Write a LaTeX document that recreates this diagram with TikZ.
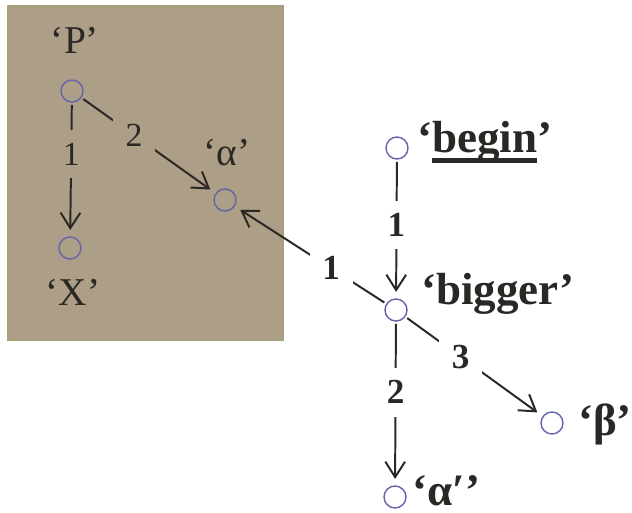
\documentclass[tikz,border=0pt]{standalone}
\usepackage{fontspec}
\setmainfont{Liberation Serif}
\usetikzlibrary{arrows.meta,positioning}
\definecolor{boxtan}{RGB}{173,158,135}
\definecolor{boxedge}{RGB}{165,160,122}
\definecolor{dotblue}{RGB}{100,100,172}
\definecolor{inkgray}{RGB}{42,40,36}
\newcommand{\thickul}[1]{\setbox0=\hbox{#1}\rlap{\rule[-7.5pt]{\wd0}{3.5pt}}\box0}

\begin{document}
\begin{tikzpicture}[
  x=0.025cm, y=-0.025cm,
  state/.style={draw=dotblue, circle, line width=1pt, minimum size=0.55cm, inner sep=0pt, outer sep=2pt},
  word/.style={text=inkgray, font=\fontsize{28}{32}\selectfont, inner sep=0pt},
  bword/.style={text=inkgray, font=\fontsize{32}{36}\selectfont\bfseries, inner sep=0pt},
  arr/.style={draw=inkgray, line width=1.4pt, shorten >=3pt, -{Straight Barb[length=11pt,width=14pt]}},
  num/.style={text=inkgray, font=\fontsize{24}{28}\selectfont, inner sep=9pt},
  bnum/.style={num, font=\fontsize{25}{28}\selectfont\bfseries, fill=white},
  tnum/.style={num, fill=boxtan},
  groupbox/.style={fill=boxtan, draw=boxedge, line width=0.8pt}
]
\useasboundingbox (0,0) rectangle (632,513);

% grey group on the left
\path[groupbox] (8,6) rectangle (283,340);

\node[state] (p) at (72,91) {};
\node[state] (x) at (70,248) {};
\node[state] (alpha) at (225,200) {};
\node[state] (begin) at (397,148) {};
\node[state] (bigger) at (396,310) {};
\node[state] (beta) at (552,423) {};
\node[state] (alpha2) at (395,497) {};

\node[word, anchor=base] (ptxt) at (75,53) {‘P’};
\node[word, anchor=base] (xtxt) at (73,305) {‘X’};
\node[word, anchor=base] (alphatxt) at (227,165) {‘α’};
\node[bword, anchor=base west] (begintxt) at (417,152) {‘\thickul{begin}’};
\node[bword, anchor=base west] (biggertxt) at (421,304) {‘bigger’};
\node[bword, anchor=base west] (betatxt) at (578,435) {‘β’};
\node[bword, anchor=base west] (alpha2txt) at (412,505) {‘α′’};

\draw[arr] (p) -- node[tnum, pos=0.38] (e1) {1} (x);
\draw[arr] (p) -- node[tnum, pos=0.39] (e2) {2} (alpha);
\draw[arr] (begin) -- node[bnum, pos=0.47] (e3) {1} (bigger);
\draw[arr] (bigger) -- node[bnum, pos=0.36] (e4) {1} (alpha);
\draw[arr] (bigger) -- node[bnum, pos=0.40] (e5) {3} (beta);
\draw[arr] (bigger) -- node[bnum, pos=0.43] (e6) {2} (alpha2);
\end{tikzpicture}
\end{document}
